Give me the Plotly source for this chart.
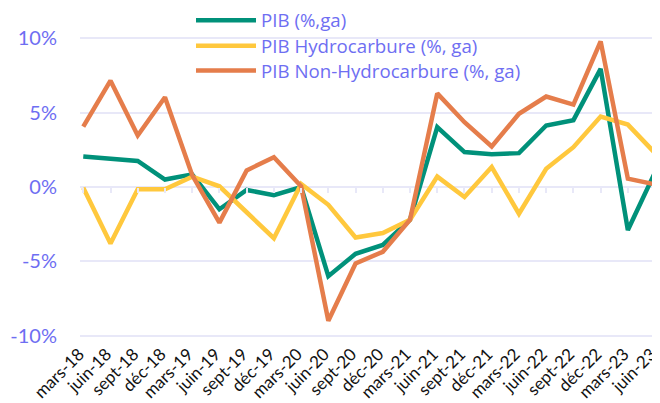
import plotly.graph_objects as go

quarters = ["mars-18", "juin-18", "sept-18", "déc-18",
            "mars-19", "juin-19", "sept-19", "déc-19",
            "mars-20", "juin-20", "sept-20", "déc-20",
            "mars-21", "juin-21", "sept-21", "déc-21",
            "mars-22", "juin-22", "sept-22", "déc-22",
            "mars-23", "juin-23"]

pib = [2.05, 1.9, 1.75, 0.5, 0.85, -1.5, -0.2, -0.55, 0.0, -6.0, -4.5, -3.9,
       -2.2, 4.03, 2.35, 2.2, 2.28, 4.14, 4.5, 7.95, -2.9, 1.0]
pib_hydro = [-0.05, -3.8, -0.15, -0.15, 0.7, 0.05, -1.7, -3.45, 0.2, -1.2, -3.4, -3.1,
             -2.2, 0.7, -0.67, 1.34, -1.8, 1.23, 2.68, 4.74, 4.2, 2.28]
pib_non_hydro = [4.07, 7.16, 3.47, 6.04, 0.8, -2.4, 1.12, 2.0, 0.05, -9.0, -5.15, -4.36,
                 -2.2, 6.3, 4.36, 2.73, 4.93, 6.09, 5.55, 9.8, 0.56, 0.18]

series_names = ["PIB (%,ga)", "PIB Hydrocarbure (%, ga)", "PIB Non-Hydrocarbure (%, ga)"]
series_colors = ["#00917A", "#FFC83D", "#E57D4B"]

y_tickvals = [-10, -5, 0, 5, 10]
y_ticktext = ["-10%", "-5%", "0%", "5%", "10%"]

FONT = "Lato"
LEG_FONT = "Open Sans"
TXT = "#6E6EF2"
GRID = "#E8E8F8"

W, H = 652, 395
T, B, L = 25.5, 63.2, 72
PH = H - T - B

fig = go.Figure()
legend_ids = ["legend", "legend2", "legend3"]
for vals, name, color, lg in zip([pib, pib_hydro, pib_non_hydro], series_names, series_colors, legend_ids):
    fig.add_trace(go.Scatter(x=quarters, y=vals, name=name, mode="lines", legend=lg,
                             line=dict(color=color, width=4.5)))
# invisible trace to carry the tick marks along the zero line
fig.add_trace(go.Scatter(x=quarters, y=[None] * len(quarters), xaxis="x2", showlegend=False,
                         hoverinfo="skip", mode="lines"))

ITEMW = 60
leg_common = dict(x=(203 - ITEMW + 40 - L) / (W - L), xanchor="left", yref="paper", yanchor="middle",
                  bgcolor="rgba(0,0,0,0)", font=dict(size=18.7, color=TXT, family=LEG_FONT),
                  itemwidth=ITEMW)
leg_centers = [12, 37.5, 62.5]  # vertical centres of the legend rows (px from top of figure)

fig.update_layout(
    width=W, height=H,
    margin=dict(l=L, r=0, t=T, b=B, autoexpand=False),
    paper_bgcolor="white", plot_bgcolor="white",
    font=dict(family=FONT, color=TXT),
    showlegend=True,
    legend=dict(y=1 + (T - leg_centers[0]) / PH, **leg_common),
    legend2=dict(y=1 + (T - leg_centers[1]) / PH, **leg_common),
    legend3=dict(y=1 + (T - leg_centers[2]) / PH, **leg_common),
    xaxis=dict(type="category", categoryorder="array", categoryarray=quarters,
               range=[-0.12, 21.18], tickangle=-45, showgrid=False, zeroline=False,
               showline=False, ticks="", automargin=False, ticklabelshift=-4,
               tickfont=dict(size=17, color="#111111", family=FONT)),
    xaxis2=dict(type="category", categoryorder="array", categoryarray=quarters,
                range=[-0.12, 21.18], overlaying="x", anchor="free", position=0.5,
                side="bottom", ticks="outside", ticklen=5, tickcolor=GRID, tickwidth=1.5,
                showticklabels=False, showgrid=False, zeroline=False, showline=False),
    yaxis=dict(range=[-10.3, 10.3], tickvals=y_tickvals, ticktext=y_ticktext,
               showgrid=True, gridcolor=GRID, gridwidth=1.5, zeroline=False, showline=False,
               ticks="", ticklabelstandoff=22, automargin=False,
               tickfont=dict(size=20, color=TXT, family=FONT)),
)

fig.write_html("out.html")
